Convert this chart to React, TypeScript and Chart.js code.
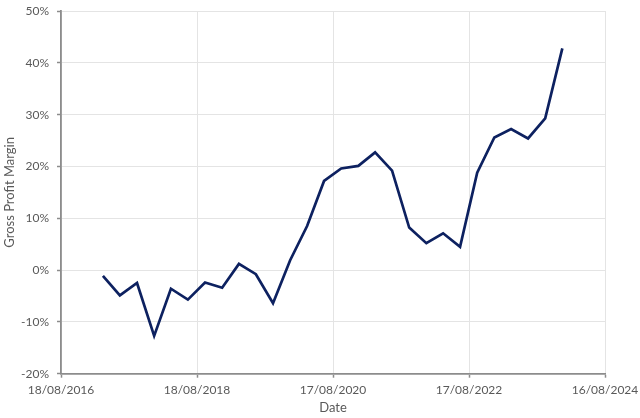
import React, { useEffect, useRef } from "react";
import { Chart, registerables } from "chart.js";
Chart.register(...registerables);

/** ---------- Data (quarter ends) ---------- */
const quarterDates = [
  "2017-03-31", "2017-06-30", "2017-09-30", "2017-12-31",
  "2018-03-31", "2018-06-30", "2018-09-30", "2018-12-31",
  "2019-03-31", "2019-06-30", "2019-09-30", "2019-12-31",
  "2020-03-31", "2020-06-30", "2020-09-30", "2020-12-31",
  "2021-03-31", "2021-06-30", "2021-09-30", "2021-12-31",
  "2022-03-31", "2022-06-30", "2022-09-30", "2022-12-31",
  "2023-03-31", "2023-06-30", "2023-09-30", "2023-12-31",
];

// gross profit margin, %
const grossMargin = [
  -1.1, -4.9, -2.5, -12.7,
  -3.6, -5.7, -2.4, -3.4,
  1.2, -0.8, -6.4, 1.9,
  8.5, 17.2, 19.6, 20.1,
  22.7, 19.2, 8.2, 5.2,
  7.1, 4.5, 18.8, 25.6,
  27.2, 25.4, 29.3, 42.8,
];

// x axis: starts 18/08/2016, a tick every 730 days, 4 steps
const axisStart = "2016-08-18";
const axisStepDays = 730;
const axisSteps = 4;

const yTicks = { min: -20, max: 50, step: 10 };

/** ---------- Helpers ---------- */
const DAY = 86400000;
const toMs = (iso: string) => {
  const [y, m, d] = iso.split("-").map(Number);
  return Date.UTC(y, m - 1, d);
};
const originMs = toMs(axisStart);
const daysFromOrigin = (iso: string) => Math.round((toMs(iso) - originMs) / DAY);
const fmtDate = (days: number) => {
  const dt = new Date(originMs + days * DAY);
  const dd = String(dt.getUTCDate()).padStart(2, "0");
  const mm = String(dt.getUTCMonth() + 1).padStart(2, "0");
  return `${dd}/${mm}/${dt.getUTCFullYear()}`;
};

const GREY_TEXT = "#595959";
const AXIS_GREY = "#8c8c8c";
const GRID_GREY = "#e4e4e4";
const FONT = "Lato, 'Open Sans', sans-serif";

export default function App() {
  const canvasRef = useRef<HTMLCanvasElement | null>(null);

  useEffect(() => {
    const canvas = canvasRef.current;
    if (!canvas) return;

    const points = quarterDates.map((d, i) => ({ x: daysFromOrigin(d), y: grossMargin[i] }));

    const chart = new Chart(canvas, {
      type: "line",
      data: {
        datasets: [
          {
            label: "Gross Profit Margin",
            data: points,
            borderColor: "#0d2160",
            borderWidth: 2.7,
            pointRadius: 0,
            tension: 0,
            fill: false,
          },
        ],
      },
      options: {
        responsive: true,
        maintainAspectRatio: false,
        animation: false,
        layout: { padding: { left: 0, right: 35, top: 11, bottom: 2 } },
        plugins: { legend: { display: false }, tooltip: { enabled: false } },
        scales: {
          x: {
            type: "linear",
            min: 0,
            max: axisStepDays * axisSteps,
            afterFit: (scale: any) => {
              // fixed box, label overhang is covered by layout padding
              scale.height = 42.3;
              scale.paddingLeft = 0;
              scale.paddingRight = 0;
            },
            ticks: {
              stepSize: axisStepDays,
              color: GREY_TEXT,
              font: { family: FONT, size: 12 },
              padding: 5,
              maxRotation: 0,
              autoSkip: false,
              callback: (v: any) => fmtDate(Number(v)),
            },
            grid: {
              color: GRID_GREY,
              lineWidth: 1,
              drawTicks: true,
              tickLength: 4,
              tickColor: AXIS_GREY,
              tickWidth: 1.5,
            },
            border: { color: AXIS_GREY, width: 1.8 },
            title: {
              display: true,
              text: "Date",
              color: GREY_TEXT,
              font: { family: FONT, size: 13 },
              padding: { top: 0, bottom: 0 },
            },
          },
          y: {
            min: yTicks.min,
            max: yTicks.max,
            afterFit: (scale: any) => {
              scale.width = 61;
              scale.paddingTop = 0;
              scale.paddingBottom = 0;
            },
            ticks: {
              stepSize: yTicks.step,
              color: GREY_TEXT,
              font: { family: FONT, size: 12 },
              padding: 8,
              callback: (v: any) => `${v}%`,
            },
            grid: {
              color: GRID_GREY,
              lineWidth: 1,
              drawTicks: true,
              tickLength: 4,
              tickColor: AXIS_GREY,
              tickWidth: 1.5,
            },
            border: { color: AXIS_GREY, width: 1.8 },
            title: {
              display: true,
              text: "Gross Profit Margin",
              color: GREY_TEXT,
              font: { family: FONT, size: 13 },
              padding: { top: 2, bottom: 0 },
            },
          },
        },
      },
    });

    return () => chart.destroy();
  }, []);

  return (
    <div style={{ position: "absolute", left: 0, top: 0, width: 640, height: 418, background: "#fff" }}>
      <canvas ref={canvasRef} />
    </div>
  );
}
